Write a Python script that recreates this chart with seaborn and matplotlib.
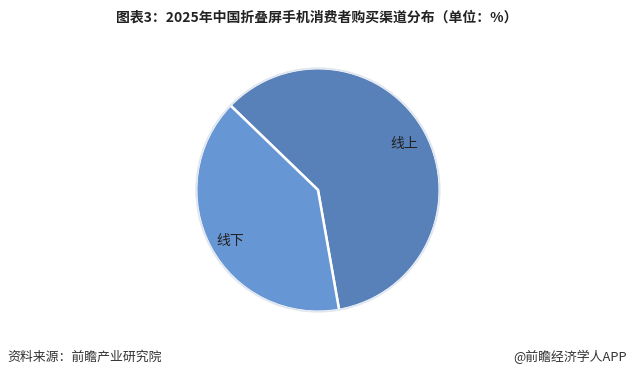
import matplotlib
matplotlib.use("Agg")
import matplotlib.pyplot as plt
import seaborn as sns

categories = ["线上", "线下"]
values = [60, 40]
title = "图表3：2025年中国折叠屏手机消费者购买渠道分布（单位：%）"
source = "资料来源：前瞻产业研究院"
credit = "@前瞻经济学人APP"

sns.set_theme(style="white")
plt.rcParams["font.family"] = ["Noto Sans CJK SC", "DejaVu Sans"]

colors = sns.color_palette(["#5880B9", "#6796D4"])

fig = plt.figure(figsize=(6.33, 3.81), dpi=100)
fig.patch.set_facecolor("white")
ax = fig.add_axes([0.308, 0.1785, 0.3886, 0.6457])
wedges, texts = ax.pie(
    values, labels=categories, colors=colors, startangle=-80, counterclock=True,
    labeldistance=0.8, radius=1.0,
    wedgeprops=dict(edgecolor="white", linewidth=1.8),
    textprops=dict(fontsize=10, color="#222222", ha="center", va="center"),
)
for t in texts:
    t.set_ha("center")
# nudge label of the smaller slice slightly outward/down, as in reference
x, y = texts[1].get_position()
texts[1].set_position((x * 1.02, y * 1.12))
ax.add_patch(plt.Circle((0, 0), 1.0, fill=False, edgecolor="#dfe6f0", linewidth=1.2))
ax.set_xlim(-1.01, 1.01)
ax.set_ylim(-1.01, 1.01)
ax.set_aspect("equal")
ax.axis("off")

fig.text(0.5, 1 - 18 / 381, title, ha="center", va="center", fontsize=10,
         fontweight="bold", color="#222222")
fig.text(7 / 633, 1 - 357 / 381, source, ha="left", va="center", fontsize=9.3, color="#333333")
fig.text(627 / 633, 1 - 357 / 381, credit, ha="right", va="center", fontsize=9.3, color="#333333")

fig.savefig("out.png", dpi=100, facecolor="white")
